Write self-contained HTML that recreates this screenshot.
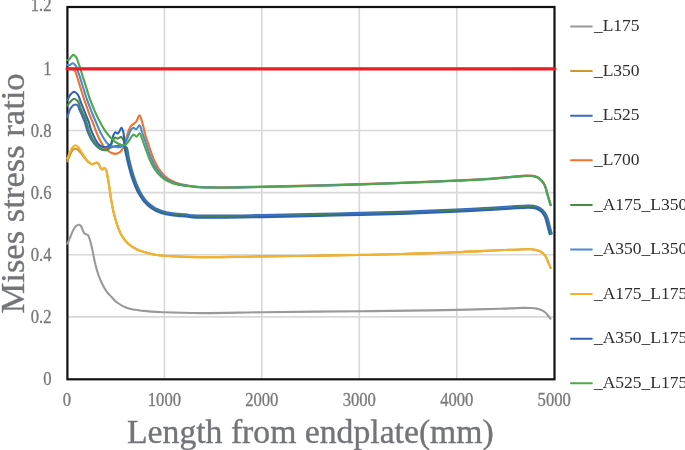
<!DOCTYPE html>
<html><head><meta charset="utf-8"><style>
html,body{margin:0;padding:0;background:#fff;width:685px;height:450px;overflow:hidden}
svg{display:block}
text{font-family:"Liberation Serif", serif}
</style></head><body>
<svg style="will-change:transform" width="685" height="450" viewBox="0 0 685 450">
<rect width="685" height="450" fill="#fff"/>
<g stroke="#d8d8d8" stroke-width="1.6" fill="none">
<line x1="67.4" y1="316.9" x2="554.5" y2="316.9" />
<line x1="67.4" y1="254.8" x2="554.5" y2="254.8" />
<line x1="67.4" y1="192.6" x2="554.5" y2="192.6" />
<line x1="67.4" y1="130.5" x2="554.5" y2="130.5" />
<line x1="67.4" y1="68.4" x2="554.5" y2="68.4" />
<line x1="164.4" y1="7" x2="164.4" y2="379.3" />
<line x1="261.8" y1="7" x2="261.8" y2="379.3" />
<line x1="359.3" y1="7" x2="359.3" y2="379.3" />
<line x1="456.8" y1="7" x2="456.8" y2="379.3" />
</g>
<rect x="67.4" y="7" width="487.1" height="372.3" fill="none" stroke="#111" stroke-width="2.2"/>
<g fill="none" stroke-width="2.1" stroke-linejoin="round" stroke-linecap="round">
<path d="M67.50,243.70 C68.57,241.13 69.68,238.40 70.70,236.00 C71.60,233.87 72.34,231.76 73.30,230.00 C74.13,228.49 74.93,226.89 76.00,226.00 C76.88,225.27 78.12,224.63 79.00,224.70 C79.75,224.76 80.44,225.33 81.00,226.00 C81.76,226.90 82.13,228.74 82.70,230.00 C83.23,231.16 83.63,232.57 84.30,233.30 C84.79,233.83 85.42,234.05 86.00,234.30 C86.55,234.54 87.23,234.41 87.70,234.80 C88.29,235.29 88.58,236.29 89.00,237.30 C89.59,238.74 90.18,240.82 90.70,242.70 C91.25,244.71 91.73,246.84 92.20,249.00 C92.70,251.27 93.10,253.55 93.60,256.00 C94.16,258.72 94.66,261.65 95.40,264.60 C96.20,267.80 97.17,271.26 98.30,274.50 C99.43,277.73 100.71,281.04 102.20,284.00 C103.60,286.79 105.23,289.53 106.90,291.80 C108.36,293.78 109.87,295.27 111.50,297.00 C113.23,298.83 114.73,300.82 117.00,302.50 C119.78,304.56 123.37,306.63 127.30,308.00 C131.94,309.61 137.56,310.19 143.30,310.90 C149.89,311.71 156.58,311.95 164.70,312.30 C175.41,312.77 188.04,313.05 202.00,313.10 C219.84,313.16 240.22,312.48 263.00,312.20 C292.02,311.84 332.09,311.53 362.00,311.20 C386.79,310.93 412.68,310.67 430.00,310.40 C440.71,310.23 446.20,310.12 456.00,309.90 C468.75,309.62 487.62,309.19 500.00,308.80 C509.05,308.51 518.10,307.96 523.50,307.90 C526.34,307.87 527.82,307.89 530.00,308.00 C532.22,308.12 534.69,308.21 536.70,308.60 C538.40,308.93 539.91,309.39 541.30,310.00 C542.55,310.55 543.69,311.20 544.70,312.00 C545.68,312.78 546.42,313.69 547.30,314.70 C548.32,315.86 549.37,317.30 550.40,318.60" stroke="#999999" />
<path d="M67.30,161.30 C68.20,159.20 69.08,156.93 70.00,155.00 C70.81,153.30 71.46,151.35 72.50,150.30 C73.31,149.49 74.36,148.86 75.30,148.80 C76.19,148.74 77.15,149.21 78.00,149.80 C79.07,150.54 80.02,152.00 81.00,153.20 C82.03,154.46 82.98,155.91 84.00,157.20 C84.98,158.44 86.00,159.82 87.00,160.80 C87.83,161.61 88.64,162.24 89.50,162.80 C90.31,163.33 91.13,164.02 92.00,164.10 C92.87,164.18 93.80,163.54 94.70,163.30 C95.57,163.07 96.56,162.43 97.30,162.70 C98.12,162.99 98.70,164.36 99.30,165.30 C99.94,166.29 100.39,167.77 101.00,168.50 C101.41,168.99 101.82,169.50 102.30,169.50 C102.89,169.50 103.68,167.96 104.30,168.00 C104.91,168.04 105.54,168.89 106.00,169.70 C106.69,170.92 106.87,172.92 107.30,175.00 C107.91,177.94 108.52,182.00 109.10,185.70 C109.72,189.68 110.19,193.83 110.90,198.10 C111.67,202.68 112.53,207.74 113.60,212.30 C114.61,216.62 115.71,220.85 117.10,224.80 C118.41,228.52 119.66,232.14 121.60,235.40 C123.53,238.64 125.96,241.89 128.70,244.30 C131.32,246.61 134.70,248.33 137.60,249.70 C140.12,250.89 142.21,251.50 145.00,252.30 C148.49,253.30 152.32,254.32 157.00,255.00 C163.40,255.94 172.17,256.25 180.00,256.60 C188.16,256.96 196.29,257.04 205.00,257.10 C214.54,257.16 225.26,257.02 235.00,256.90 C244.24,256.78 251.50,256.57 262.00,256.40 C276.72,256.17 297.17,255.96 315.00,255.70 C333.16,255.43 351.27,255.22 370.00,254.80 C389.57,254.36 414.05,253.60 430.00,253.10 C440.58,252.77 445.50,252.62 456.40,252.20 C474.16,251.52 516.88,249.30 526.40,249.20 C528.84,249.17 529.32,249.13 531.00,249.30 C533.05,249.50 535.80,249.84 537.80,250.50 C539.53,251.07 541.08,251.80 542.40,252.80 C543.67,253.76 544.68,254.87 545.60,256.30 C546.71,258.02 547.43,260.60 548.30,262.60 C549.09,264.42 549.83,266.07 550.60,267.80" stroke="#cc972b" />
<path d="M67.40,117.00 C68.53,113.97 69.19,110.06 70.80,107.90 C72.02,106.26 73.92,104.57 75.30,104.50 C76.41,104.45 77.74,105.54 78.40,106.40 C79.01,107.18 78.87,108.15 79.30,109.30 C79.98,111.09 81.38,113.82 82.30,116.00 C83.17,118.05 83.93,119.80 84.70,122.00 C85.61,124.61 86.24,127.90 87.30,130.70 C88.35,133.46 89.56,136.22 91.00,138.70 C92.38,141.07 94.04,143.53 95.70,145.30 C97.07,146.76 98.41,148.09 100.00,148.80 C101.52,149.48 103.35,149.75 105.00,149.60 C106.69,149.44 108.33,148.37 110.00,147.80 C111.66,147.24 113.31,146.53 115.00,146.20 C116.65,145.87 118.40,145.83 120.00,145.80 C121.49,145.78 123.10,145.59 124.30,146.00 C125.33,146.35 126.23,146.82 126.88,147.82 C127.89,149.38 127.86,152.92 128.37,155.35 C128.86,157.65 129.35,159.87 129.87,162.03 C130.35,164.07 130.85,166.05 131.36,167.96 C131.84,169.78 132.34,171.53 132.85,173.23 C133.33,174.84 133.82,176.40 134.33,177.91 C134.81,179.34 135.31,180.73 135.82,182.07 C136.30,183.34 136.79,184.57 137.30,185.75 C137.78,186.88 138.27,187.97 138.77,189.02 C139.25,190.02 139.74,190.99 140.25,191.92 C140.72,192.81 141.21,193.67 141.71,194.49 C142.19,195.28 142.68,196.04 143.18,196.77 C143.65,197.47 144.14,198.15 144.63,198.79 C145.11,199.41 145.59,200.01 146.09,200.58 C146.56,201.13 147.04,201.66 147.54,202.17 C148.01,202.66 148.49,203.13 148.98,203.58 C149.46,204.02 149.94,204.43 150.42,204.83 C150.90,205.22 151.38,205.59 151.87,205.94 C152.34,206.29 152.82,206.62 153.31,206.93 C153.78,207.24 154.26,207.53 154.75,207.81 C155.23,208.09 155.71,208.35 156.19,208.60 C156.67,208.84 157.15,209.07 157.64,209.29 C158.12,209.51 158.60,209.72 159.09,209.92 C159.57,210.11 160.06,210.30 160.54,210.47 C161.02,210.64 161.51,210.81 162.00,210.96 C162.48,211.12 162.97,211.27 163.46,211.41 C163.94,211.54 164.43,211.67 164.92,211.80 C165.41,211.92 165.90,212.04 166.39,212.15 C166.88,212.26 167.37,212.36 167.86,212.46 C168.35,212.56 168.84,212.65 169.33,212.74 C169.82,212.83 170.31,212.91 170.80,212.99 C171.30,213.07 171.79,213.14 172.28,213.21 C172.77,213.28 173.27,213.34 173.76,213.41 C174.26,213.47 174.75,213.53 175.24,213.58 C175.74,213.64 176.23,213.69 176.73,213.74 C177.22,213.79 177.72,213.83 178.21,213.88 C178.71,213.92 179.21,213.96 179.70,214.00 C180.20,214.04 180.69,214.08 181.19,214.11 C181.69,214.14 182.18,214.18 182.68,214.21 C183.18,214.24 183.67,214.27 184.17,214.30 C184.69,214.32 185.03,214.32 185.75,214.38 C187.29,214.52 189.84,215.08 193.05,215.30 C199.19,215.72 210.02,215.62 219.99,215.60 C232.44,215.58 247.66,215.24 261.98,215.00 C276.96,214.75 292.17,214.45 307.97,214.10 C324.77,213.73 342.98,213.24 359.97,212.80 C376.28,212.38 391.96,212.03 407.96,211.50 C423.95,210.97 442.09,210.25 455.94,209.60 C466.52,209.11 474.77,208.61 483.93,208.10 C492.75,207.61 501.93,207.04 509.93,206.60 C516.77,206.22 524.08,205.42 529.00,205.60 C532.11,205.71 534.29,205.78 536.60,206.56 C538.80,207.31 540.90,208.51 542.58,210.05 C544.31,211.62 545.70,213.74 546.78,215.95 C547.93,218.31 548.42,221.22 549.15,223.85 C549.88,226.45 550.63,229.94 551.15,231.65 C551.41,232.52 551.60,232.93 551.83,233.57" stroke="#3a6bbe" />
<path d="M67.20,68.80 C67.97,68.70 68.72,68.58 69.50,68.50 C70.31,68.41 71.25,68.15 72.00,68.30 C72.67,68.43 73.30,68.77 73.80,69.20 C74.31,69.63 74.60,70.16 75.00,70.90 C75.61,72.03 76.23,73.85 76.80,75.50 C77.44,77.38 77.82,79.02 78.60,81.60 C79.97,86.12 82.69,95.11 84.40,100.20 C85.61,103.79 86.71,106.49 87.70,109.30 C88.55,111.70 89.16,113.84 90.00,116.00 C90.80,118.07 91.72,119.80 92.60,122.00 C93.65,124.62 94.68,127.87 95.80,130.70 C96.88,133.44 97.95,136.20 99.20,138.70 C100.37,141.04 101.62,143.34 103.00,145.30 C104.24,147.06 105.57,148.74 107.00,150.00 C108.26,151.11 109.60,151.95 111.00,152.60 C112.34,153.23 113.74,153.96 115.20,153.90 C116.85,153.83 119.01,152.97 120.40,151.80 C121.85,150.58 122.59,148.82 123.60,146.60 C125.14,143.21 126.38,136.72 127.80,133.00 C128.83,130.31 129.65,127.84 130.90,126.20 C131.82,124.99 133.05,124.46 134.00,123.60 C134.86,122.82 135.63,122.33 136.40,121.30 C137.50,119.83 138.52,115.24 139.50,115.30 C140.64,115.37 141.76,120.92 142.70,124.00 C143.72,127.35 144.25,131.05 145.30,134.70 C146.42,138.61 148.30,143.61 149.30,146.70 C149.93,148.63 150.29,149.91 150.80,151.43 C151.29,152.87 151.79,154.26 152.30,155.60 C152.79,156.87 153.29,158.10 153.80,159.29 C154.29,160.41 154.79,161.49 155.30,162.54 C155.79,163.53 156.29,164.49 156.80,165.41 C157.29,166.28 157.79,167.13 158.30,167.94 C158.79,168.71 159.29,169.46 159.80,170.17 C160.29,170.86 160.79,171.51 161.30,172.14 C161.79,172.75 162.29,173.33 162.80,173.88 C163.29,174.42 163.79,174.93 164.30,175.42 C164.79,175.89 165.29,176.34 165.80,176.77 C166.29,177.19 166.79,177.59 167.30,177.97 C167.79,178.34 168.30,178.69 168.80,179.02 C169.30,179.35 169.80,179.66 170.30,179.96 C170.80,180.25 171.30,180.52 171.80,180.78 C172.30,181.03 172.80,181.27 173.30,181.50 C173.80,181.73 174.30,181.94 174.80,182.14 C175.30,182.34 175.80,182.53 176.30,182.71 C176.80,182.88 177.30,183.05 177.80,183.21 C178.30,183.36 178.80,183.51 179.30,183.65 C179.80,183.78 180.30,183.91 180.80,184.03 C181.30,184.16 181.80,184.27 182.30,184.38 C182.80,184.48 183.30,184.58 183.80,184.68 C184.30,184.77 184.80,184.86 185.30,184.95 C185.80,185.03 186.21,185.06 186.80,185.18 C187.67,185.35 188.63,185.72 190.00,185.95 C192.40,186.36 196.09,186.72 200.00,186.95 C205.52,187.28 212.11,187.34 220.00,187.35 C231.43,187.37 247.68,186.92 262.00,186.65 C276.99,186.36 292.20,186.05 308.00,185.65 C324.80,185.23 343.01,184.70 360.00,184.15 C376.32,183.63 392.00,183.07 408.00,182.45 C424.00,181.83 442.14,181.09 456.00,180.45 C466.58,179.96 474.84,179.65 484.00,179.05 C492.83,178.47 502.38,177.57 510.00,176.95 C515.98,176.47 521.75,175.76 526.00,175.65 C528.81,175.58 531.01,175.55 533.00,175.85 C534.53,176.08 535.72,176.34 537.00,176.95 C538.40,177.62 539.78,178.61 541.00,179.85 C542.41,181.28 543.81,183.20 544.80,185.25 C545.90,187.51 546.34,190.37 547.10,192.95 C547.87,195.54 548.76,198.56 549.40,200.75 C549.87,202.33 550.20,203.48 550.60,204.85" stroke="#eb7430" />
<path d="M67.40,105.60 C68.27,104.47 68.95,103.27 70.00,102.20 C71.17,100.99 72.85,98.86 74.20,98.80 C75.37,98.75 76.85,100.32 77.60,101.10 C78.11,101.63 78.24,101.96 78.60,102.70 C79.30,104.13 80.11,107.11 81.00,109.30 C81.91,111.54 83.06,113.82 84.00,116.00 C84.89,118.05 85.75,119.79 86.50,122.00 C87.38,124.60 87.82,127.90 88.80,130.70 C89.76,133.46 90.90,136.23 92.30,138.70 C93.65,141.08 95.38,143.43 97.00,145.30 C98.39,146.91 99.87,148.59 101.30,149.40 C102.37,150.01 103.41,150.27 104.50,150.30 C105.64,150.33 107.01,150.11 108.00,149.50 C109.03,148.87 109.76,147.76 110.50,146.50 C111.47,144.85 111.96,141.79 112.90,140.20 C113.56,139.07 114.23,137.83 115.10,137.60 C115.91,137.38 116.94,138.66 117.90,138.60 C118.97,138.53 120.24,136.64 121.20,136.90 C122.33,137.21 123.29,139.61 124.00,141.30 C124.83,143.26 125.09,145.75 125.60,148.07 C126.13,150.52 126.59,153.18 127.10,155.62 C127.59,157.92 128.09,160.16 128.60,162.33 C129.09,164.38 129.59,166.37 130.10,168.30 C130.59,170.12 131.09,171.89 131.60,173.61 C132.09,175.23 132.59,176.80 133.10,178.33 C133.59,179.77 134.09,181.17 134.60,182.53 C135.09,183.81 135.59,185.06 136.10,186.26 C136.59,187.41 137.09,188.51 137.60,189.58 C138.09,190.60 138.59,191.59 139.10,192.54 C139.59,193.44 140.09,194.32 140.60,195.16 C141.09,195.97 141.59,196.75 142.10,197.50 C142.59,198.22 143.09,198.91 143.60,199.58 C144.09,200.22 144.59,200.84 145.10,201.43 C145.59,202.00 146.09,202.55 146.60,203.07 C147.09,203.58 147.59,204.07 148.10,204.54 C148.59,204.99 149.09,205.42 149.60,205.84 C150.09,206.24 150.59,206.63 151.10,206.99 C151.60,207.35 152.10,207.70 152.60,208.02 C153.10,208.34 153.60,208.65 154.10,208.94 C154.60,209.22 155.10,209.49 155.60,209.75 C156.10,210.01 156.60,210.25 157.10,210.48 C157.60,210.70 158.10,210.92 158.60,211.12 C159.10,211.32 159.60,211.51 160.10,211.69 C160.60,211.87 161.10,212.04 161.60,212.20 C162.10,212.36 162.60,212.51 163.10,212.66 C163.60,212.80 164.10,212.93 164.60,213.06 C165.10,213.19 165.60,213.30 166.10,213.42 C166.60,213.53 167.10,213.64 167.60,213.74 C168.10,213.84 168.60,213.93 169.10,214.02 C169.60,214.11 170.10,214.19 170.60,214.27 C171.10,214.35 171.60,214.43 172.10,214.50 C172.60,214.57 173.10,214.63 173.60,214.70 C174.10,214.76 174.60,214.82 175.10,214.87 C175.60,214.93 176.10,214.98 176.60,215.03 C177.10,215.08 177.60,215.13 178.10,215.17 C178.60,215.22 179.10,215.26 179.60,215.30 C180.10,215.34 180.60,215.37 181.10,215.41 C181.60,215.44 182.10,215.47 182.60,215.51 C183.10,215.54 183.60,215.57 184.10,215.59 C184.60,215.62 184.91,215.61 185.60,215.67 C187.13,215.81 189.75,216.38 193.00,216.60 C199.18,217.02 210.01,216.92 220.00,216.90 C232.46,216.88 247.68,216.54 262.00,216.30 C276.98,216.05 292.20,215.75 308.00,215.40 C324.80,215.03 343.01,214.54 360.00,214.10 C376.32,213.67 392.00,213.33 408.00,212.80 C424.00,212.27 442.14,211.55 456.00,210.90 C466.59,210.41 474.84,209.91 484.00,209.40 C492.83,208.91 502.01,208.34 510.00,207.90 C516.83,207.52 524.18,206.73 529.00,206.90 C531.98,207.01 534.03,207.07 536.20,207.80 C538.23,208.49 540.15,209.58 541.70,211.00 C543.30,212.46 544.59,214.42 545.60,216.50 C546.71,218.77 547.18,221.62 547.90,224.20 C548.62,226.78 549.37,230.26 549.90,232.00 C550.17,232.89 550.37,233.33 550.60,234.00" stroke="#4a8a44" />
<path d="M67.20,64.80 C67.90,64.97 68.54,65.42 69.30,65.30 C70.35,65.14 71.76,63.13 72.80,63.20 C73.70,63.26 74.53,64.37 75.20,65.10 C75.85,65.81 76.33,66.50 76.80,67.50 C77.45,68.88 77.88,71.34 78.40,72.80 C78.78,73.86 79.12,74.41 79.50,75.50 C80.07,77.11 80.51,79.02 81.30,81.60 C82.68,86.12 85.42,95.12 87.20,100.20 C88.46,103.79 89.62,106.50 90.70,109.30 C91.63,111.70 92.41,113.84 93.30,116.00 C94.15,118.06 94.96,119.81 95.90,122.00 C97.03,124.63 98.24,127.89 99.60,130.70 C100.94,133.46 102.43,136.29 104.00,138.70 C105.42,140.87 106.81,143.27 108.50,144.60 C109.88,145.69 111.49,146.19 113.00,146.60 C114.42,146.99 115.98,147.02 117.30,147.10 C118.42,147.16 119.36,147.49 120.40,147.10 C121.79,146.57 123.41,144.93 124.60,143.40 C125.93,141.70 126.78,139.37 127.80,137.20 C128.89,134.89 129.68,131.51 130.90,129.90 C131.69,128.85 132.61,127.87 133.50,127.80 C134.34,127.73 135.24,129.45 136.10,129.30 C137.24,129.10 138.56,125.14 139.50,125.30 C140.60,125.49 141.12,129.58 142.00,132.00 C143.03,134.84 144.16,138.00 145.30,141.30 C146.59,145.04 148.26,150.38 149.30,153.30 C149.90,154.99 150.29,156.00 150.80,157.28 C151.29,158.49 151.79,159.66 152.30,160.79 C152.79,161.86 153.29,162.89 153.80,163.89 C154.29,164.83 154.79,165.74 155.30,166.62 C155.79,167.46 156.29,168.26 156.80,169.03 C157.29,169.77 157.79,170.48 158.30,171.16 C158.79,171.81 159.29,172.44 159.80,173.04 C160.29,173.62 160.79,174.17 161.30,174.70 C161.79,175.21 162.29,175.70 162.80,176.16 C163.29,176.61 163.79,177.04 164.30,177.45 C164.79,177.85 165.29,178.23 165.80,178.59 C166.29,178.94 166.80,179.28 167.30,179.60 C167.80,179.91 168.30,180.20 168.80,180.48 C169.30,180.76 169.80,181.02 170.30,181.27 C170.80,181.51 171.30,181.74 171.80,181.96 C172.30,182.17 172.80,182.38 173.30,182.57 C173.80,182.76 174.30,182.94 174.80,183.11 C175.30,183.28 175.80,183.43 176.30,183.58 C176.80,183.73 177.30,183.87 177.80,184.00 C178.30,184.13 178.80,184.26 179.30,184.37 C179.80,184.49 180.30,184.60 180.80,184.70 C181.30,184.80 181.80,184.90 182.30,184.99 C182.80,185.08 183.30,185.16 183.80,185.24 C184.30,185.32 184.80,185.39 185.30,185.46 C185.80,185.54 186.21,185.58 186.80,185.66 C187.67,185.79 188.63,185.98 190.00,186.15 C192.41,186.45 196.09,186.92 200.00,187.15 C205.52,187.48 212.11,187.54 220.00,187.55 C231.43,187.57 247.68,187.12 262.00,186.85 C276.99,186.56 292.20,186.25 308.00,185.85 C324.80,185.43 343.01,184.90 360.00,184.35 C376.32,183.83 392.00,183.27 408.00,182.65 C424.00,182.03 442.14,181.29 456.00,180.65 C466.58,180.16 474.84,179.85 484.00,179.25 C492.83,178.67 502.38,177.77 510.00,177.15 C515.98,176.67 521.75,175.96 526.00,175.85 C528.81,175.78 531.01,175.75 533.00,176.05 C534.53,176.28 535.72,176.54 537.00,177.15 C538.40,177.82 539.78,178.81 541.00,180.05 C542.41,181.48 543.81,183.40 544.80,185.45 C545.90,187.71 546.34,190.57 547.10,193.15 C547.87,195.74 548.76,198.76 549.40,200.95 C549.87,202.53 550.20,203.68 550.60,205.05" stroke="#4a8bd0" />
<path d="M67.30,158.50 C68.20,156.33 69.06,153.94 70.00,152.00 C70.80,150.34 71.51,148.66 72.50,147.50 C73.32,146.53 74.35,145.38 75.30,145.30 C76.19,145.23 77.16,146.03 78.00,146.80 C79.11,147.82 80.01,149.78 81.00,151.30 C82.01,152.84 82.98,154.48 84.00,156.00 C84.99,157.48 85.99,159.10 87.00,160.30 C87.83,161.29 88.61,162.15 89.50,162.80 C90.29,163.38 91.13,164.02 92.00,164.10 C92.87,164.18 93.80,163.54 94.70,163.30 C95.57,163.07 96.56,162.43 97.30,162.70 C98.12,162.99 98.70,164.36 99.30,165.30 C99.94,166.29 100.39,167.77 101.00,168.50 C101.41,168.99 101.82,169.50 102.30,169.50 C102.89,169.50 103.68,167.96 104.30,168.00 C104.91,168.04 105.54,168.89 106.00,169.70 C106.69,170.92 106.87,172.92 107.30,175.00 C107.91,177.94 108.52,182.00 109.10,185.70 C109.72,189.68 110.19,193.83 110.90,198.10 C111.67,202.68 112.53,207.74 113.60,212.30 C114.61,216.62 115.71,220.85 117.10,224.80 C118.41,228.52 119.66,232.14 121.60,235.40 C123.53,238.64 125.96,241.89 128.70,244.30 C131.32,246.61 134.70,248.33 137.60,249.70 C140.12,250.89 142.21,251.50 145.00,252.30 C148.49,253.30 152.32,254.32 157.00,255.00 C163.40,255.94 172.17,256.25 180.00,256.60 C188.16,256.96 196.29,257.04 205.00,257.10 C214.54,257.16 225.26,257.02 235.00,256.90 C244.24,256.78 251.50,256.57 262.00,256.40 C276.72,256.17 297.17,255.96 315.00,255.70 C333.16,255.43 351.27,255.22 370.00,254.80 C389.57,254.36 414.05,253.60 430.00,253.10 C440.58,252.77 445.50,252.62 456.40,252.20 C474.16,251.52 516.88,249.30 526.40,249.20 C528.84,249.17 529.32,249.13 531.00,249.30 C533.05,249.50 535.80,249.84 537.80,250.50 C539.53,251.07 541.08,251.80 542.40,252.80 C543.67,253.76 544.68,254.87 545.60,256.30 C546.71,258.02 547.43,260.60 548.30,262.60 C549.09,264.42 549.83,266.07 550.60,267.80" stroke="#f2b230" />
<path d="M67.40,100.40 C68.27,98.63 68.83,96.57 70.00,95.10 C71.12,93.69 72.87,91.72 74.20,91.70 C75.39,91.68 76.78,93.32 77.60,94.30 C78.29,95.12 78.53,95.91 79.00,97.00 C79.66,98.53 80.26,100.74 81.00,102.70 C81.81,104.83 82.82,107.09 83.70,109.30 C84.59,111.52 85.43,113.83 86.30,116.00 C87.13,118.06 88.03,119.79 88.80,122.00 C89.71,124.61 90.26,127.90 91.30,130.70 C92.33,133.46 93.71,136.31 95.00,138.70 C96.12,140.77 97.18,142.89 98.50,144.30 C99.57,145.43 100.82,146.31 102.00,146.80 C102.99,147.21 104.01,147.38 105.00,147.30 C106.01,147.22 107.04,146.84 108.00,146.30 C109.09,145.69 110.28,144.99 111.10,143.70 C112.29,141.83 112.37,137.44 113.30,135.40 C113.91,134.05 114.54,132.54 115.40,132.30 C116.15,132.09 117.18,133.75 118.00,133.50 C119.25,133.11 120.46,127.74 121.40,127.80 C122.21,127.85 122.88,130.35 123.40,132.40 C124.33,136.05 124.20,143.93 124.82,148.23 C125.25,151.22 125.80,153.34 126.32,155.78 C126.81,158.09 127.31,160.34 127.82,162.51 C128.31,164.57 128.81,166.57 129.33,168.50 C129.82,170.34 130.32,172.11 130.83,173.83 C131.32,175.47 131.82,177.05 132.34,178.58 C132.83,180.04 133.33,181.45 133.85,182.81 C134.34,184.10 134.85,185.36 135.36,186.57 C135.86,187.73 136.36,188.85 136.88,189.93 C137.37,190.96 137.88,191.95 138.40,192.92 C138.89,193.84 139.40,194.72 139.92,195.58 C140.41,196.40 140.92,197.19 141.44,197.95 C141.94,198.68 142.45,199.39 142.96,200.07 C143.46,200.72 143.97,201.35 144.49,201.95 C145.00,202.53 145.51,203.09 146.02,203.63 C146.53,204.15 147.04,204.65 147.56,205.12 C148.06,205.59 148.58,206.03 149.09,206.46 C149.60,206.87 150.11,207.26 150.63,207.64 C151.14,208.01 151.65,208.36 152.16,208.69 C152.67,209.02 153.18,209.33 153.70,209.63 C154.21,209.92 154.72,210.20 155.24,210.46 C155.74,210.72 156.25,210.97 156.77,211.20 C157.28,211.44 157.79,211.65 158.30,211.86 C158.81,212.07 159.32,212.26 159.83,212.45 C160.34,212.63 160.85,212.80 161.36,212.96 C161.86,213.13 162.37,213.28 162.88,213.43 C163.39,213.57 163.89,213.71 164.40,213.83 C164.91,213.96 165.42,214.08 165.92,214.20 C166.43,214.31 166.94,214.42 167.44,214.52 C167.95,214.62 168.45,214.72 168.96,214.81 C169.46,214.90 169.97,214.98 170.47,215.06 C170.98,215.14 171.48,215.22 171.99,215.29 C172.49,215.36 173.00,215.43 173.50,215.49 C174.00,215.55 174.51,215.61 175.01,215.67 C175.51,215.72 176.02,215.78 176.52,215.83 C177.02,215.88 177.53,215.92 178.03,215.97 C178.53,216.01 179.03,216.05 179.54,216.09 C180.04,216.13 180.54,216.17 181.04,216.21 C181.55,216.24 182.05,216.27 182.55,216.30 C183.05,216.34 183.56,216.37 184.06,216.39 C184.54,216.42 184.84,216.41 185.51,216.47 C187.04,216.60 189.70,217.18 192.97,217.40 C199.17,217.82 210.00,217.72 220.00,217.70 C232.47,217.68 247.69,217.34 262.01,217.10 C277.00,216.85 292.21,216.55 308.02,216.20 C324.82,215.83 343.03,215.34 360.02,214.90 C376.34,214.47 392.03,214.13 408.03,213.60 C424.03,213.07 442.18,212.34 456.04,211.70 C466.62,211.21 474.88,210.71 484.04,210.20 C492.87,209.71 502.06,209.14 510.04,208.70 C516.86,208.32 524.24,207.53 529.00,207.70 C531.90,207.80 533.87,207.86 535.95,208.56 C537.89,209.21 539.69,210.24 541.16,211.59 C542.68,212.98 543.90,214.84 544.88,216.84 C545.95,219.06 546.42,221.86 547.13,224.41 C547.84,226.99 548.60,230.46 549.13,232.21 C549.40,233.12 549.61,233.58 549.84,234.26" stroke="#2e63b4" />
<path d="M67.10,60.00 C67.50,60.07 67.82,60.36 68.30,60.20 C69.48,59.80 71.80,55.00 73.30,54.90 C74.39,54.82 75.52,56.23 76.30,57.30 C77.20,58.54 77.50,60.45 78.10,62.10 C78.73,63.84 79.37,65.58 80.00,67.50 C80.71,69.65 81.38,72.08 82.10,74.40 C82.84,76.78 83.46,78.64 84.40,81.60 C85.91,86.36 88.47,95.13 90.30,100.20 C91.60,103.80 92.81,106.51 94.00,109.30 C95.03,111.71 95.98,113.84 97.00,116.00 C97.98,118.07 98.84,119.83 100.00,122.00 C101.42,124.65 103.23,128.09 105.00,130.70 C106.58,133.03 108.36,135.21 110.00,137.00 C111.35,138.48 112.53,139.65 114.00,140.80 C115.52,141.99 117.44,143.25 119.00,144.00 C120.23,144.60 121.35,145.13 122.50,145.20 C123.58,145.26 124.67,145.14 125.70,144.50 C127.17,143.59 128.56,141.00 129.90,139.30 C131.16,137.70 132.24,134.82 133.50,134.60 C134.50,134.43 135.63,136.73 136.60,136.60 C137.67,136.46 138.74,133.16 139.60,133.30 C140.59,133.46 141.18,136.64 142.00,138.70 C143.06,141.36 144.13,144.80 145.30,148.00 C146.56,151.45 148.26,156.15 149.30,158.70 C149.89,160.15 150.29,160.98 150.80,162.06 C151.29,163.09 151.79,164.08 152.30,165.03 C152.79,165.93 153.29,166.81 153.80,167.64 C154.29,168.44 154.79,169.21 155.30,169.95 C155.79,170.66 156.29,171.34 156.80,171.99 C157.29,172.62 157.79,173.22 158.30,173.79 C158.79,174.34 159.29,174.87 159.80,175.38 C160.29,175.87 160.79,176.33 161.30,176.78 C161.79,177.21 162.29,177.62 162.80,178.01 C163.29,178.40 163.79,178.76 164.30,179.11 C164.80,179.44 165.30,179.76 165.80,180.07 C166.30,180.37 166.80,180.65 167.30,180.92 C167.80,181.18 168.30,181.43 168.80,181.67 C169.30,181.90 169.80,182.12 170.30,182.33 C170.80,182.54 171.30,182.73 171.80,182.91 C172.30,183.10 172.80,183.27 173.30,183.43 C173.80,183.59 174.30,183.74 174.80,183.88 C175.30,184.03 175.80,184.16 176.30,184.29 C176.80,184.41 177.30,184.53 177.80,184.64 C178.30,184.75 178.80,184.85 179.30,184.95 C179.80,185.05 180.30,185.14 180.80,185.23 C181.30,185.31 181.80,185.40 182.30,185.47 C182.80,185.55 183.30,185.62 183.80,185.69 C184.30,185.75 184.80,185.82 185.30,185.88 C185.80,185.94 186.21,185.99 186.80,186.04 C187.67,186.13 188.64,186.18 190.00,186.30 C192.41,186.52 196.09,187.07 200.00,187.30 C205.52,187.63 212.11,187.69 220.00,187.70 C231.43,187.72 247.68,187.27 262.00,187.00 C276.99,186.71 292.20,186.40 308.00,186.00 C324.80,185.58 343.01,185.05 360.00,184.50 C376.32,183.98 392.00,183.42 408.00,182.80 C424.00,182.18 442.14,181.44 456.00,180.80 C466.58,180.31 474.84,180.00 484.00,179.40 C492.83,178.82 502.38,177.92 510.00,177.30 C515.98,176.82 521.75,176.11 526.00,176.00 C528.81,175.93 531.01,175.90 533.00,176.20 C534.53,176.43 535.72,176.69 537.00,177.30 C538.40,177.97 539.78,178.96 541.00,180.20 C542.41,181.63 543.81,183.55 544.80,185.60 C545.90,187.86 546.34,190.72 547.10,193.30 C547.87,195.89 548.76,198.91 549.40,201.10 C549.87,202.68 550.20,203.83 550.60,205.20" stroke="#4fa64c" />
</g>
<line x1="67" y1="68.8" x2="555" y2="68.8" stroke="#ec1c24" stroke-width="3.2" stroke-linecap="round"/>
<g font-size="18.5" fill="#787878" stroke="#787878" stroke-width="0.3">
<text transform="translate(51.5,385.2) scale(0.9,1)" text-anchor="end">0</text>
<text transform="translate(51.5,323.1) scale(0.9,1)" text-anchor="end">0.2</text>
<text transform="translate(51.5,261.0) scale(0.9,1)" text-anchor="end">0.4</text>
<text transform="translate(51.5,198.8) scale(0.9,1)" text-anchor="end">0.6</text>
<text transform="translate(51.5,136.7) scale(0.9,1)" text-anchor="end">0.8</text>
<text transform="translate(51.5,74.6) scale(0.9,1)" text-anchor="end">1</text>
<text transform="translate(51.5,11.4) scale(0.9,1)" text-anchor="end">1.2</text>
<text transform="translate(66.9,406.4) scale(0.9,1)" text-anchor="middle">0</text>
<text transform="translate(164.4,406.4) scale(0.9,1)" text-anchor="middle">1000</text>
<text transform="translate(261.8,406.4) scale(0.9,1)" text-anchor="middle">2000</text>
<text transform="translate(359.3,406.4) scale(0.9,1)" text-anchor="middle">3000</text>
<text transform="translate(456.8,406.4) scale(0.9,1)" text-anchor="middle">4000</text>
<text transform="translate(554.2,406.4) scale(0.9,1)" text-anchor="middle">5000</text>
</g>
<text x="310.4" y="442.8" font-size="33.7" fill="#727478" stroke="#727478" stroke-width="0.35" text-anchor="middle">Length from endplate(mm)</text>
<text transform="translate(24.2,193.4) rotate(-90)" font-size="34.6" fill="#727478" stroke="#727478" stroke-width="0.35" text-anchor="middle">Mises stress ratio</text>
<g font-size="17.5" fill="#2e2e2e" stroke-width="2.0" stroke-linecap="round">
<line x1="571" y1="26.5" x2="591.8" y2="26.5" stroke="#999999" />
<text x="593.9" y="31.1">_L175</text>
<line x1="571" y1="71.1" x2="591.8" y2="71.1" stroke="#cc972b" />
<text x="593.9" y="75.7">_L350</text>
<line x1="571" y1="115.7" x2="591.8" y2="115.7" stroke="#3a6bbe" />
<text x="593.9" y="120.3">_L525</text>
<line x1="571" y1="160.3" x2="591.8" y2="160.3" stroke="#eb7430" />
<text x="593.9" y="164.9">_L700</text>
<line x1="571" y1="204.9" x2="591.8" y2="204.9" stroke="#4a8a44" />
<text x="593.9" y="209.5">_A175_L350</text>
<line x1="571" y1="249.5" x2="591.8" y2="249.5" stroke="#4a8bd0" />
<text x="593.9" y="254.1">_A350_L350</text>
<line x1="571" y1="294.1" x2="591.8" y2="294.1" stroke="#f2b230" />
<text x="593.9" y="298.7">_A175_L175</text>
<line x1="571" y1="338.7" x2="591.8" y2="338.7" stroke="#2e63b4" />
<text x="593.9" y="343.3">_A350_L175</text>
<line x1="571" y1="383.3" x2="591.8" y2="383.3" stroke="#4fa64c" />
<text x="593.9" y="387.9">_A525_L175</text>
</g>
</svg>
</body></html>
